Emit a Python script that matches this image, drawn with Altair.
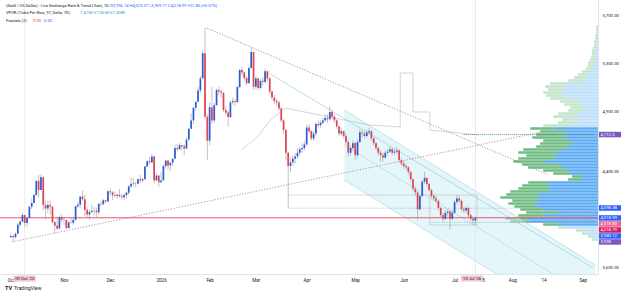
import altair as alt
import pandas as pd

FONT = "Roboto"
BLUE = "#2a5bd7"
RED = "#e5404f"

# ---------------- daily candles, bar index = trading day from 1 Oct 2025 ----------------
first_open = 3858.0
close = [
    3866, 3857, 3886, 3961, 3985, 4041, 3975, 4017, 4110, 4142, 4208, 4326, 4250, 4356, 4125, 4095,
    4126, 4112, 3982, 3953, 3930, 4025, 4002,
    4000, 3932, 3980, 3977, 4001, 4115, 4127, 4195, 4173, 4084, 4045, 4067, 4077, 4078, 4064, 4135,
    4131, 4165, 4155, 4239,
    4230, 4205, 4200, 4210, 4197, 4190, 4208, 4228, 4280, 4300, 4305, 4303, 4340, 4330, 4340, 4445,
    4490, 4480, 4530, 4330, 4370, 4315,
    4330, 4450, 4495, 4455, 4478, 4510, 4600, 4590, 4625, 4615, 4595, 4670, 4760, 4830, 4935, 4985,
    5080, 5180, 5390, 4860,
    4660, 4940, 4830, 4958, 5083, 5070, 5060, 4917, 4895, 4858, 4980, 4990, 4983, 5108, 5250, 5230,
    5183, 5140, 5267, 5400, 5110,
    5180, 5100, 5160, 5150, 5240, 5180, 5070, 5020, 4990, 4980, 4930, 4830, 4750, 4560, 4450, 4480,
    4510, 4530, 4560, 4590, 4600, 4630,
    4770, 4740, 4680, 4720, 4800, 4790, 4810, 4830, 4850, 4840, 4900, 4860, 4830, 4780, 4720, 4740,
    4700, 4650, 4560, 4600, 4640,
    4540, 4650, 4730, 4720, 4700, 4730, 4740, 4680, 4640, 4600, 4560, 4540, 4520, 4560, 4570, 4590,
    4560, 4570, 4580, 4500, 4470,
    4450, 4440, 4400, 4340, 4260, 4230, 4090, 4200, 4320, 4350, 4300, 4250, 4200, 4180, 4160, 4100,
    4040, 4010, 4060, 4070, 4010, 4060,
    4150, 4180, 4160, 4090, 4080, 4100, 4040, 4010, 3996.14, 4018.99,
]
high = [
    3895, 3875, 3895, 3977, 3992, 4059, 4045, 4022, 4116, 4180, 4218, 4330, 4380, 4381, 4360, 4161,
    4160, 4162, 4112, 3990, 4030, 4040, 4050,
    4030, 4003, 3995, 4020, 4020, 4120, 4148, 4200, 4245, 4210, 4105, 4085, 4130, 4110, 4100, 4140,
    4155, 4175, 4170, 4245,
    4265, 4240, 4240, 4220, 4260, 4220, 4220, 4235, 4290, 4353, 4350, 4320, 4345, 4375, 4350, 4450,
    4497, 4525, 4550, 4530, 4385, 4375,
    4400, 4460, 4500, 4500, 4480, 4515, 4630, 4635, 4640, 4625, 4630, 4690, 4765, 4888, 4940, 4990,
    5110, 5200, 5415, 5600,
    4880, 4980, 5108, 4975, 5095, 5110, 5090, 5067, 4950, 4910, 4995, 5020, 5010, 5120, 5260, 5275,
    5240, 5200, 5280, 5442, 5400,
    5200, 5190, 5175, 5190, 5260, 5245, 5190, 5080, 5040, 5010, 4995, 4940, 4840, 4760, 4570, 4520,
    4540, 4560, 4600, 4610, 4640, 4660,
    4790, 4800, 4750, 4740, 4815, 4830, 4830, 4850, 4880, 4880, 4950, 4920, 4880, 4840, 4790, 4770,
    4750, 4720, 4670, 4620, 4660,
    4650, 4670, 4760, 4750, 4740, 4750, 4770, 4750, 4690, 4650, 4610, 4580, 4560, 4580, 4590, 4610,
    4600, 4590, 4610, 4590, 4520,
    4490, 4470, 4450, 4410, 4350, 4280, 4240, 4215, 4330, 4400, 4360, 4310, 4260, 4220, 4200, 4170,
    4110, 4060, 4080, 4090, 4080, 4080,
    4165, 4210, 4200, 4170, 4110, 4120, 4110, 4050, 4030, 4025.37,
]
low = [
    3850, 3822, 3845, 3884, 3940, 3980, 3945, 3945, 4010, 4092, 4140, 4200, 4185, 4252, 4082, 4004,
    4060, 4045, 3970, 3886, 3915, 3920, 3980,
    3960, 3928, 3930, 3970, 3960, 3995, 4097, 4100, 4160, 4032, 4020, 4000, 4058, 4040, 4022, 4040,
    4115, 4125, 4140, 4150,
    4205, 4165, 4185, 4175, 4190, 4170, 4170, 4180, 4210, 4265, 4280, 4270, 4295, 4310, 4310, 4340,
    4440, 4460, 4480, 4305, 4330, 4275,
    4315, 4345, 4430, 4420, 4410, 4450, 4510, 4570, 4580, 4580, 4540, 4600, 4660, 4760, 4800, 4910,
    4990, 5060, 5180, 4840,
    4500, 4620, 4800, 4810, 4950, 5040, 5020, 4900, 4870, 4780, 4850, 4960, 4950, 4975, 5100, 5200,
    5160, 5120, 5140, 5260, 5080,
    5090, 5080, 5090, 5120, 5140, 5160, 5050, 5000, 4970, 4950, 4910, 4810, 4720, 4500, 4100, 4400,
    4450, 4470, 4510, 4540, 4560, 4580,
    4620, 4720, 4660, 4660, 4700, 4770, 4770, 4800, 4820, 4810, 4830, 4840, 4810, 4760, 4700, 4700,
    4680, 4630, 4530, 4540, 4580,
    4500, 4520, 4640, 4690, 4680, 4690, 4710, 4660, 4620, 4580, 4540, 4480, 4490, 4510, 4540, 4560,
    4540, 4540, 4550, 4480, 4450,
    4430, 4420, 4380, 4320, 4240, 4200, 4000, 4080, 4190, 4300, 4280, 4230, 4180, 4160, 4140, 4080,
    4020, 3990, 4000, 4030, 3920, 4000,
    4050, 4130, 4140, 4070, 4060, 4060, 4020, 3990, 3960, 3959.71,
]
opens = [first_open] + close[:-1]
candles = pd.DataFrame({"i": list(range(len(close))), "open": opens,
                        "high": high, "low": low, "close": close})

# ---------------- drawings ----------------
# falling resistance through the two tops, rising support from the October base
trend_falling_i = [84.7, 232.8]
trend_falling_p = [5600, 4375]
trend_rising_i = [0.4, 229.4]
trend_rising_p = [3817, 4733]

# regression channel (start / end of the projected band)
chan_i = [144.3, 252.8]
chan_upper = [4917, 3625]
chan_mid = [4625, 3333]
chan_lower = [4333, 3042]

# descending line from the March high
ray_i = [111.5, 252.0]
ray_p = [5225, 3600]

# grey step line
step_i = [99.6, 106.8, 112.3, 118.7, 154.9, 168.5, 168.5, 174.0, 174.0, 181.3, 181.3, 202.6]
step_p = [4583, 4692, 4833, 4933, 4792, 4775, 5225, 5225, 4900, 4900, 4750, 4708]

# support shelf from the March low into the July range box
shelf_i = [120.0, 181.3]
shelf_p = [4208, 4208]

# range box around the July consolidation
box_i = [181.3, 201.7]
box_p = [4208, 3958]

# dotted level lines
lvl_p = [4098.38, 3980.12]
lvl_i0 = [120.0, 181.0]
lvl_i1 = [251.9, 251.9]

# date range markers
range_marks = [6, 201]

# ---------------- visible range volume profile (rows of 25) ----------------
vp_lo = [3825 + 25 * n for n in range(72)]
vp_up = [4, 7, 11, 15, 30, 40, 68, 72, 55, 40, 55, 62, 65, 60, 58, 62, 50, 48, 52, 50,
         18, 15, 28, 30, 35, 40, 55, 45, 40, 42, 35, 30, 25, 28, 36, 30, 33, 45, 30, 22,
         18, 25, 20, 15, 14, 16, 20, 30, 34, 38, 32, 35, 30, 15, 12, 10, 8, 6, 4, 4,
         3, 3, 2, 2, 2, 2, 2, 1, 1, 1, 1, 1]
vp_dn = [2, 3, 5, 7, 10, 15, 20, 21, 25, 32, 23, 22, 25, 26, 40, 30, 38, 32, 24, 20,
         12, 11, 17, 25, 35, 36, 30, 35, 32, 38, 40, 32, 33, 27, 30, 32, 25, 23, 25, 18,
         18, 20, 20, 15, 14, 18, 18, 18, 18, 17, 18, 18, 18, 15, 12, 10, 8, 6, 6, 6,
         5, 4, 4, 4, 3, 2, 2, 2, 2, 1, 1, 1]
vp_va = [0] * 5 + [1] * 33 + [0] * 34

vp_rows = []
for lo, u, d, va in zip(vp_lo, vp_up, vp_dn, vp_va):
    tag = "" if va else " light"
    vp_rows.append({"lo": lo + 2, "hi": lo + 23, "v0": 0, "v1": u, "kind": "up" + tag})
    vp_rows.append({"lo": lo + 2, "hi": lo + 23, "v0": u, "v1": u + d, "kind": "down" + tag})
vp_df = pd.DataFrame(vp_rows)

# ---------------- scales ----------------
X = alt.Scale(domain=[-2.55, 251.9], nice=False, zero=False)
Y = alt.Scale(domain=[3550, 5833.3], nice=False, zero=False)

tick_i = [0, 23, 43, 65, 86, 106, 128, 149, 170, 192, 203.8, 217, 230.5, 247.5]
tick_t = ["Oct", "Nov", "Dec", "2026", "Feb", "Mar", "Apr", "May", "Jun", "Jul", "18", "Aug",
          "14", "Sep"]
label_expr = "{}[indexof({}, datum.value)]".format(
    "[" + ",".join("'%s'" % t for t in tick_t) + "]",
    "[" + ",".join(str(v) for v in tick_i) + "]")

price_ticks = [3600, 3700, 4200, 4300, 4400, 4500, 4600, 4800, 4900, 5000, 5100, 5200, 5300,
               5400, 5500, 5600, 5700]

x_axis = alt.Axis(values=tick_i, labelExpr=label_expr, grid=False, ticks=False,
                  domainColor="#e0e3eb", labelFont=FONT, labelFontSize=4.6,
                  labelColor="#131722", labelPadding=3, labelOverlap=False, title=None)
y_axis = alt.Axis(orient="right", values=price_ticks, format=",.2f", grid=False, ticks=False,
                  domainColor="#e0e3eb", labelFont=FONT, labelFontSize=4.3,
                  labelColor="#131722", labelPadding=4, labelOverlap=False, title=None)

# ---------------- layers ----------------
chan_df = pd.DataFrame({"i": chan_i, "up": chan_upper, "mid": chan_mid, "lo": chan_lower})
channel_fill = alt.Chart(chan_df).mark_area(color="#c9eef5", opacity=0.5, clip=True).encode(
    x=alt.X("i:Q", scale=X, axis=x_axis), y=alt.Y("up:Q", scale=Y, axis=y_axis), y2="lo:Q")
chan_lines = alt.Chart(chan_df).transform_fold(["up", "mid", "lo"], as_=["edge", "p"]).mark_line(
    color="#9fd3df", strokeWidth=0.6, clip=True).encode(
    x=alt.X("i:Q", scale=X), y=alt.Y("p:Q", scale=Y), detail="edge:N")

ray = alt.Chart(pd.DataFrame({"i": ray_i, "p": ray_p})).mark_line(
    color="#8cc7d6", strokeWidth=0.6, clip=True).encode(
    x=alt.X("i:Q", scale=X), y=alt.Y("p:Q", scale=Y))

step = alt.Chart(pd.DataFrame({"i": step_i, "p": step_p, "o": list(range(len(step_i)))})).mark_line(
    color="#b7b9c0", strokeWidth=0.6, clip=True).encode(
    x=alt.X("i:Q", scale=X), y=alt.Y("p:Q", scale=Y), order="o:Q")

shelf = alt.Chart(pd.DataFrame({"i": shelf_i, "p": shelf_p})).mark_line(
    color="#c3c5cb", strokeWidth=0.6).encode(
    x=alt.X("i:Q", scale=X), y=alt.Y("p:Q", scale=Y))

box = alt.Chart(pd.DataFrame({"i0": [box_i[0]], "i1": [box_i[1]], "p0": [box_p[0]], "p1": [box_p[1]]})).mark_rect(
    fill=None, stroke="#b7b9c0", strokeWidth=0.6).encode(
    x=alt.X("i0:Q", scale=X), x2="i1:Q", y=alt.Y("p0:Q", scale=Y), y2="p1:Q")

marks = alt.Chart(pd.DataFrame({"i": range_marks})).mark_rule(color="#e3e5ea", strokeWidth=0.8).encode(
    x=alt.X("i:Q", scale=X))

tl_df = pd.DataFrame({
    "i": trend_falling_i + trend_rising_i,
    "p": trend_falling_p + trend_rising_p,
    "line": ["falling"] * 2 + ["rising"] * 2,
    "c": ["#8b7d86"] * 2 + ["#b0777f"] * 2,
})
trend = alt.Chart(tl_df).mark_line(strokeWidth=0.8, strokeDash=[1.2, 1.6], clip=True).encode(
    x=alt.X("i:Q", scale=X), y=alt.Y("p:Q", scale=Y), detail="line:N",
    color=alt.Color("c:N", scale=None))

lvl = alt.Chart(pd.DataFrame({"p": lvl_p, "i0": lvl_i0, "i1": lvl_i1})).mark_rule(
    color="#8a8d96", strokeWidth=0.6, strokeDash=[1, 1.5]).encode(
    x=alt.X("i0:Q", scale=X), x2="i1:Q", y=alt.Y("p:Q", scale=Y))

poc = alt.Chart(pd.DataFrame({"p": [4712.0], "i0": [196.0], "i1": [251.9]})).mark_rule(
    color="#3b7f8c", strokeWidth=0.8, strokeDash=[1, 1]).encode(
    x=alt.X("i0:Q", scale=X), x2="i1:Q", y=alt.Y("p:Q", scale=Y))

last_price = alt.Chart(pd.DataFrame({"p": [4018.79]})).mark_rule(
    color="#e8576a", strokeWidth=1.1).encode(y=alt.Y("p:Q", scale=Y))

wicks = alt.Chart(candles).mark_rule(color="#9598a1", strokeWidth=0.6).encode(
    x=alt.X("i:Q", scale=X), y=alt.Y("low:Q", scale=Y), y2="high:Q")
bodies = alt.Chart(candles).mark_bar(size=1.7).encode(
    x=alt.X("i:Q", scale=X), y=alt.Y("open:Q", scale=Y), y2="close:Q",
    color=alt.condition("datum.close >= datum.open", alt.value(BLUE), alt.value(RED)))

vp = alt.Chart(vp_df).mark_rect(opacity=0.85).encode(
    x=alt.X("v0:Q", scale=alt.Scale(domain=[0, 600], reverse=True, nice=False), axis=None),
    x2="v1:Q",
    y=alt.Y("lo:Q", scale=Y), y2="hi:Q",
    color=alt.Color("kind:N", legend=None, scale=alt.Scale(
        domain=["up", "down", "up light", "down light"],
        range=["#3e9cf0", "#55b06b", "#b3d9f8", "#b9e0c1"])))

# right-hand price tags
tag_text = ["4,712.0", "4,098.38", "4,018.99", "4,018.80", "4,018.79", "3,980.12", "3,938"]
tag_slot = [4712, 4100, 4017, 3967, 3917, 3867, 3817]
tag_color = ["#7e57c2", "#2962ff", "#2962ff", "#f06292", "#d81b60", "#2962ff", "#7e57c2"]
tags = pd.DataFrame({"t": tag_text, "p": tag_slot, "c": tag_color})
tag_box = alt.Chart(tags).mark_rect(height=5.5, width=22).encode(
    x=alt.value(610), y=alt.Y("p:Q", scale=Y), color=alt.Color("c:N", scale=None))
tag_txt = alt.Chart(tags).mark_text(font=FONT, fontSize=4.3, color="white", align="left",
                                    baseline="middle").encode(
    x=alt.value(600.5), y=alt.Y("p:Q", scale=Y), text="t:N")

# highlighted dates on the time scale
dates = pd.DataFrame({"i": [6, 199.5], "t": ["09 Oct '25", "10 Jul '26"]})
date_box = alt.Chart(dates).mark_rect(height=6, width=22, color="#f7c5cc").encode(
    x=alt.X("i:Q", scale=X), y=alt.value(278.5))
date_txt = alt.Chart(dates).mark_text(font=FONT, fontSize=4.3, color="#131722",
                                      baseline="middle").encode(
    x=alt.X("i:Q", scale=X), y=alt.value(278.5), text="t:N")

# legend lines at the top left
hdr = pd.DataFrame({
    "t": ["(Gold / US Dollar) · Live Exchange Rate & Trend Chart, 1D",
          "O3,996.14  H4,025.37  L3,959.71  C4,018.99  +22.85 (+0.57%)",
          "VPVR (Ticks Per Row, 97, Delta, 70)", "7.415K  57.565K  67.308K",
          "Fractals (2)", "0.00", "0.00"],
    "x": [6, 110, 6, 80, 6, 33, 44],
    "y": [5.5, 5.5, 13, 13, 20.5, 20.5, 20.5],
    "c": ["#131722", "#2962ff", "#131722", "#22a6c9", "#131722", "#f23645", "#2962ff"],
})
header = alt.Chart(hdr).mark_text(font=FONT, fontSize=4.1, align="left", baseline="middle").encode(
    x=alt.X("x:Q", scale=None), y=alt.Y("y:Q", scale=None), text="t:N",
    color=alt.Color("c:N", scale=None))

brand_logo = alt.Chart(pd.DataFrame({"t": ["TV"]})).mark_text(
    font=FONT, fontSize=5.5, fontWeight="bold", align="left", baseline="middle",
    color="#131722").encode(x=alt.value(5), y=alt.value(287.5), text="t:N")
brand_name = alt.Chart(pd.DataFrame({"t": ["TradingView"]})).mark_text(
    font=FONT, fontSize=5, align="left", baseline="middle", color="#131722").encode(
    x=alt.value(14), y=alt.value(287.5), text="t:N")

main = alt.layer(channel_fill, chan_lines, ray, marks, step, shelf, box, trend, lvl, poc,
                 last_price, wicks, bodies, tag_box, tag_txt, date_box, date_txt, header,
                 brand_logo, brand_name)

chart = alt.layer(vp, main).resolve_scale(x="independent").properties(
    width=598, height=274,
    autosize=alt.AutoSizeParams(type="none"),
    padding={"left": 0, "top": 0, "right": 27, "bottom": 20},
    background="white",
).configure_view(stroke=None)

chart.save("out.html", embed_options={"renderer": "svg", "actions": False})
